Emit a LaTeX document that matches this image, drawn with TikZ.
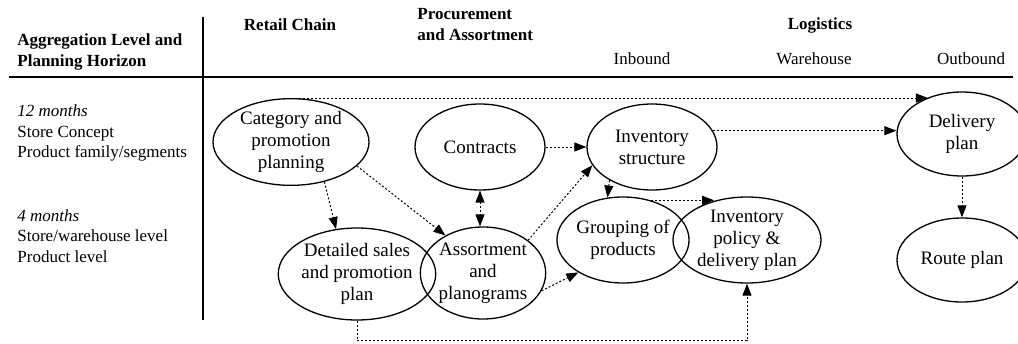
\documentclass[tikz,border=0pt]{standalone}
\usepackage{fontspec}
\setmainfont{Liberation Serif}
\usepackage{tikz}
\usetikzlibrary{calc,positioning,arrows.meta,shapes.geometric}

\begin{document}
\begin{tikzpicture}[x=0.5pt,y=-0.5pt,
    plan/.style={draw,ellipse,line width=0.65pt,inner sep=0pt,align=center,
                 font=\fontsize{9.5}{11}\selectfont},
    flow/.style={line width=0.5pt,dash pattern=on 1pt off 1pt,
                 -{Triangle[length=6pt,width=4.5pt]}},
    hdr/.style={inner sep=0pt,font=\fontsize{8.5}{10.5}\selectfont\bfseries},
    sub/.style={inner sep=0pt,font=\fontsize{8.5}{10.3}\selectfont}]
      \useasboundingbox (0,0) rectangle (1018,343);
      \clip (0,0) rectangle (1018,343);
      \draw[line width=0.65pt] (203,17) -- (203,320);
      \draw[line width=0.65pt] (9,77) -- (1013,77);
      \node[hdr,align=left,anchor=west] (agg) at (17,52) {Aggregation Level and\\Planning Horizon};
      \node[hdr] (retail) at (290,25) {Retail Chain};
      \node[hdr,align=left,anchor=west] (proc) at (417,25) {Procurement\\and Assortment};
      \node[hdr] (logis) at (820,25) {Logistics};
      \node[sub] (inb) at (642,59) {Inbound};
      \node[sub] (wareh) at (814,59) {Warehouse};
      \node[sub] (outb) at (971,59) {Outbound};
      \node[sub,align=left,anchor=west] (long) at (17,133)
            {\itshape 12 months\\Store Concept\\Product family/segments};
      \node[sub,align=left,anchor=west] (short) at (17,236)
            {\itshape 4 months\\Store/warehouse level\\Product level};
      \node[plan,minimum width=78pt,minimum height=43pt] (cat) at (291,142)
            {Category and\\promotion\\planning};
      \node[plan,minimum width=65pt,minimum height=43pt] (contr) at (480,147) {Contracts};
      \node[plan,minimum width=74pt,minimum height=46pt] (det) at (357,274)
            {Detailed sales\\and promotion\\plan};
      \node[plan,minimum width=60pt,minimum height=46pt] (assort) at (483,273)
            {Assortment\\and\\planograms};
      \node[plan,minimum width=65pt,minimum height=43pt] (invs) at (652,147)
            {Inventory\\structure};
      \node[plan,minimum width=62pt,minimum height=43pt] (grp) at (623,240)
            {Grouping of\\products};
      \node[plan,minimum width=74pt,minimum height=43pt] (pol) at (747,240)
            {Inventory\\policy \&\\delivery plan};
      \node[plan,minimum width=65pt,minimum height=42pt] (deliv) at (962,134)
            {Delivery\\plan};
      \node[plan,minimum width=65pt,minimum height=42pt] (route) at (962,260) {Route plan};
      \draw[flow] (cat.north) -- (cat.north -| deliv.133);
      \draw[flow] (contr.east) -- (invs.west);
      \draw[flow] (invs.15) -- (invs.15 -| deliv.west);
      \draw[flow,{Triangle[length=6pt,width=4.5pt]}-{Triangle[length=6pt,width=4.5pt]}]
            (contr.south) -- (contr.south |- assort.north);
      \draw[flow] (cat.-50) -- (det.115);
      \draw[flow] (cat.-20) -- (assort.135);
      \draw[flow] (assort.36) -- (invs.-163);
      \draw[flow] (assort.-17) -- (grp.-144);
      \draw[flow] (invs.-142) -- (grp.110);
      \draw[flow] (grp.55) -- (grp.55 -| pol.130);
      \draw[flow] (det.south) -- ++(0,20) -| (pol.south);
      \draw[flow] (deliv.south) -- (route.north);
    \end{tikzpicture}
\end{document}
